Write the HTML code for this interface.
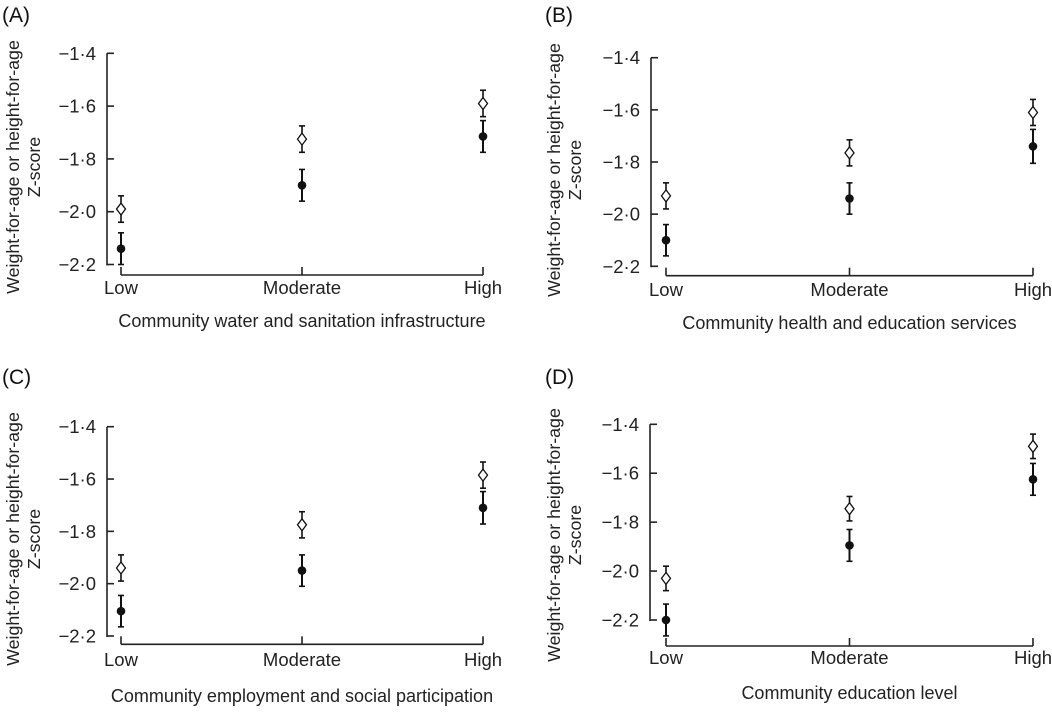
<!DOCTYPE html>
<html><head><meta charset="utf-8"><style>
html,body{margin:0;padding:0;background:#fff;}
svg{display:block;font-family:"Liberation Sans",Arial,sans-serif;}
</style></head><body>
<svg id="chart" width="1052" height="712" viewBox="0 0 1052 712" xmlns="http://www.w3.org/2000/svg"></svg>
<script>
const categories = ["Low","Moderate","High"];
const yTicks = [-1.4,-1.6,-1.8,-2.0,-2.2];
const yTickLabels = ["\u22121\u00b74","\u22121\u00b76","\u22121\u00b78","\u22122\u00b70","\u22122\u00b72"];
const panelLabels = ["(A)","(B)","(C)","(D)"];
const xTitles = ["Community water and sanitation infrastructure","Community health and education services","Community employment and social participation","Community education level"];
const openMeans = [[-1.99,-1.725,-1.59],[-1.93,-1.765,-1.61],[-1.94,-1.775,-1.585],[-2.03,-1.745,-1.49]];
const openErr = [[0.05,0.05,0.05],[0.05,0.05,0.05],[0.05,0.05,0.05],[0.05,0.05,0.05]];
const filledMeans = [[-2.14,-1.90,-1.715],[-2.10,-1.94,-1.74],[-2.105,-1.95,-1.71],[-2.20,-1.895,-1.625]];
const filledErr = [[0.06,0.06,0.06],[0.06,0.06,0.065],[0.06,0.06,0.062],[0.065,0.065,0.065]];

// layout per panel (not data)
const layouts = [
 {ox:0, yAx:107, yTop:53.3, yBot:264.5, xAx:275, x0:121, x1:483, lab:[2,22], labY:294, titY:327, ytX:[13,34], ytY:167},
 {ox:540, yAx:651, yTop:57.7, yBot:266.3, xAx:275.7, x0:666, x1:1033, lab:[545,22], labY:296, titY:329, ytX:[554,575], ytY:170},
 {ox:0, yAx:107, yTop:426.7, yBot:636, xAx:644.3, x0:121, x1:483, lab:[2,384], labY:666, titY:702, ytX:[13,34], ytY:539},
 {ox:540, yAx:650, yTop:424.3, yBot:620, xAx:646, x0:666, x1:1033, lab:[545,384], labY:664, titY:699, ytX:[554,575], ytY:535}
];
const NS="http://www.w3.org/2000/svg";
const svg=document.getElementById('chart');
function mk(tag,attrs,parent){const e=document.createElementNS(NS,tag);for(const k in attrs)e.setAttribute(k,attrs[k]);(parent||svg).appendChild(e);return e;}

layouts.forEach((L,p)=>{
  const g=mk('g',{});
  
  
  const yS=v=>L.yTop+(yTicks[0]-v)/(yTicks[0]-yTicks[yTicks.length-1])*(L.yBot-L.yTop);
  const xS=i=>L.x0+i*(L.x1-L.x0)/(categories.length-1);
  let t=mk('text',{x:L.lab[0],y:L.lab[1],'font-size':21,fill:'#111'},g);t.textContent=panelLabels[p];
  
  let ya=mk('line',{x1:L.yAx,y1:yS(yTicks[0]),x2:L.yAx,y2:yS(yTicks[yTicks.length-1])+1,stroke:'#222','stroke-width':1.6},g);
  
  yTicks.forEach((v,i)=>{
    const y=yS(v);
    mk('line',{x1:L.yAx,y1:y,x2:L.yAx+7,y2:y,stroke:'#222','stroke-width':1.6},g);
    const tl=mk('text',{x:L.yAx-11,y:y+6.5,'font-size':18.5,'text-anchor':'end',fill:'#222'},g);
    tl.textContent=yTickLabels[i];
    
  });
  let xa=mk('line',{x1:L.x0,y1:L.xAx,x2:L.x1,y2:L.xAx,stroke:'#222','stroke-width':1.6},g);
  
  categories.forEach((c,i)=>{
    const x=xS(i);
    mk('line',{x1:x,y1:L.xAx,x2:x,y2:L.xAx-8,stroke:'#222','stroke-width':1.6},g);
    const tl=mk('text',{x:x,y:L.labY,'font-size':18.5,'text-anchor':'middle',fill:'#222'},g);
    tl.textContent=c;
    
  });
  const xt=mk('text',{x:(L.x0+L.x1)/2,y:L.titY,'font-size':18,'text-anchor':'middle',fill:'#222'},g);
  xt.textContent=xTitles[p];
  
  const yt=mk('text',{transform:`translate(${L.ytX[0]},${L.ytY}) rotate(-90)`,'font-size':17.8,'text-anchor':'middle',fill:'#222'},g);
  
  const s1=mk('tspan',{x:0,dy:6},yt);s1.textContent='Weight-for-age or height-for-age';
  const s2=mk('tspan',{x:0,dy:21},yt);s2.textContent='Z-score';
  categories.forEach((c,i)=>{
    const x=xS(i);
    const fm=filledMeans[p][i],fe=filledErr[p][i];
    const fg=mk('g',{},g);
    
    mk('line',{x1:x,y1:yS(fm-fe),x2:x,y2:yS(fm+fe),stroke:'#111','stroke-width':2},fg);
    mk('line',{x1:x-3,y1:yS(fm-fe),x2:x+3,y2:yS(fm-fe),stroke:'#111','stroke-width':1.6},fg);
    mk('line',{x1:x-3,y1:yS(fm+fe),x2:x+3,y2:yS(fm+fe),stroke:'#111','stroke-width':1.6},fg);
    mk('circle',{cx:x,cy:yS(fm),r:4.3,fill:'#111'},fg);
    const om=openMeans[p][i],oe=openErr[p][i];
    const og=mk('g',{},g);
    
    mk('line',{x1:x,y1:yS(om-oe),x2:x,y2:yS(om+oe),stroke:'#111','stroke-width':1.6},og);
    mk('line',{x1:x-3,y1:yS(om-oe),x2:x+3,y2:yS(om-oe),stroke:'#111','stroke-width':1.6},og);
    mk('line',{x1:x-3,y1:yS(om+oe),x2:x+3,y2:yS(om+oe),stroke:'#111','stroke-width':1.6},og);
    const cy=yS(om);
    mk('polygon',{points:`${x},${cy-6} ${x+4.5},${cy} ${x},${cy+6} ${x-4.5},${cy}`,fill:'#fff',stroke:'#111','stroke-width':1.3},og);
  });
});
</script>
</body></html>
